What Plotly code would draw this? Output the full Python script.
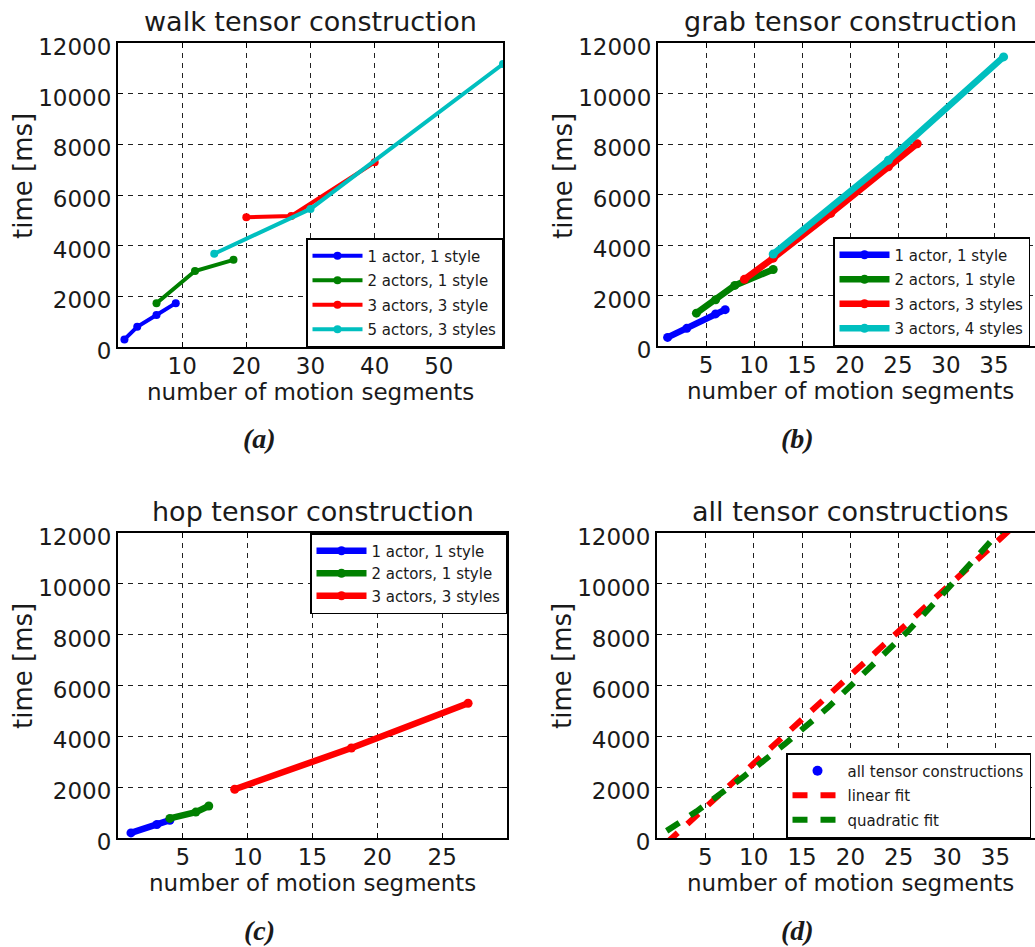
import plotly.graph_objects as go

W, H = 1035, 947
FONT = "DejaVu Sans"
INK = "#1a1a1a"

BLUE, GREEN, RED, CYAN = "#0000ff", "#008000", "#ff0000", "#00bfbf"

# ---- walk tensor construction ----
walk_x_1a1s = [1, 3, 6, 9]
walk_y_1a1s = [300, 800, 1260, 1730]
walk_x_2a1s = [6, 12, 18]
walk_y_2a1s = [1730, 3000, 3440]
walk_x_3a3s = [20, 27, 40]
walk_y_3a3s = [5120, 5170, 7290]
walk_x_5a3s = [15, 30, 60]
walk_y_5a3s = [3680, 5450, 11170]

# ---- grab tensor construction ----
grab_x_1a1s = [1, 3, 6, 7]
grab_y_1a1s = [340, 700, 1270, 1440]
grab_x_2a1s = [4, 6, 8, 12]
grab_y_2a1s = [1300, 1830, 2400, 3030]
grab_x_3a3s = [9, 12, 18, 24, 27]
grab_y_3a3s = [2640, 3480, 5250, 7100, 8010]
grab_x_3a4s = [12, 24, 36]
grab_y_3a4s = [3640, 7360, 11450]

# ---- hop tensor construction ----
hop_x_1a1s = [1, 3, 4]
hop_y_1a1s = [200, 530, 700]
hop_x_2a1s = [4, 6, 7]
hop_y_2a1s = [770, 1020, 1260]
hop_x_3a3s = [9, 18, 27]
hop_y_3a3s = [1920, 3540, 5300]

# ---- all tensor constructions: fitted curves ----
fit_x_lin = [1, 37]
fit_y_lin = [-190, 12300]
fit_x_quad = [1, 4.1, 8.7, 13.2, 17.7, 21.8, 26, 29.8, 33.8, 36.5]
fit_y_quad = [280, 1050, 2340, 3690, 5140, 6610, 8160, 9700, 11370, 12500]

y_ticks = [0, 2000, 4000, 6000, 8000, 10000, 12000]

titles = ["walk tensor construction", "grab tensor construction",
          "hop tensor construction", "all tensor constructions"]
panel_tags = ["(a)", "(b)", "(c)", "(d)"]
x_title = "number of motion segments"
y_title = "time [ms]"

# panel boxes in pixels: (left, right, top, bottom), x range, x ticks, right frame
panels = [
    dict(box=(118, 503, 43, 347), xr=[0, 60], xt=[10, 20, 30, 40, 50], right=True),
    dict(box=(658, 1035, 43, 346), xr=[0, (1035 - 658) / 9.6], xt=[5, 10, 15, 20, 25, 30, 35], right=False),
    dict(box=(118, 507, 533, 838), xr=[0, 30], xt=[5, 10, 15, 20, 25], right=True),
    dict(box=(657, 1035, 533, 838), xr=[0, (1035 - 657) / 9.67], xt=[5, 10, 15, 20, 25, 30, 35], right=False),
]

fig = go.Figure()


def px_x(v):
    return v / W


def px_y(v):
    return 1 - v / H


def add_series(xs, ys, name, color, width, msize, ax, leg):
    fig.add_trace(go.Scatter(
        x=xs, y=ys, name=name, mode="lines+markers",
        line=dict(color=color, width=width),
        marker=dict(color=color, size=msize),
        xaxis="x" + ax, yaxis="y" + ax, legend=leg,
        legendgroup=leg + name,
    ))


# walk
add_series(walk_x_1a1s, walk_y_1a1s, "1 actor, 1 style", BLUE, 4, 8, "", "legend")
add_series(walk_x_2a1s, walk_y_2a1s, "2 actors, 1 style", GREEN, 4, 8, "", "legend")
add_series(walk_x_3a3s, walk_y_3a3s, "3 actors, 3 style", RED, 4, 8, "", "legend")
add_series(walk_x_5a3s, walk_y_5a3s, "5 actors, 3 styles", CYAN, 4, 8, "", "legend")

# grab
add_series(grab_x_1a1s, grab_y_1a1s, "1 actor, 1 style", BLUE, 6.5, 9, "2", "legend2")
add_series(grab_x_2a1s, grab_y_2a1s, "2 actors, 1 style", GREEN, 6.5, 9, "2", "legend2")
add_series(grab_x_3a3s, grab_y_3a3s, "3 actors, 3 styles", RED, 6.5, 9, "2", "legend2")
add_series(grab_x_3a4s, grab_y_3a4s, "3 actors, 4 styles", CYAN, 6.5, 9, "2", "legend2")

# hop
add_series(hop_x_1a1s, hop_y_1a1s, "1 actor, 1 style", BLUE, 6.5, 9, "3", "legend3")
add_series(hop_x_2a1s, hop_y_2a1s, "2 actors, 1 style", GREEN, 6.5, 9, "3", "legend3")
add_series(hop_x_3a3s, hop_y_3a3s, "3 actors, 3 styles", RED, 6.5, 9, "3", "legend3")

# all constructions
fig.add_trace(go.Scatter(
    x=[None], y=[None], name="all tensor constructions", mode="markers",
    marker=dict(color=BLUE, size=10), xaxis="x4", yaxis="y4", legend="legend4",
    legendgroup="d1",
))
fig.add_trace(go.Scatter(
    x=fit_x_lin, y=fit_y_lin, name="linear fit", mode="lines",
    line=dict(color=RED, width=6, dash="15px,13px"),
    xaxis="x4", yaxis="y4", legend="legend4", legendgroup="d2",
))
fig.add_trace(go.Scatter(
    x=fit_x_quad, y=fit_y_quad, name="quadratic fit", mode="lines",
    line=dict(color=GREEN, width=6, dash="15px,13px"),
    xaxis="x4", yaxis="y4", legend="legend4", legendgroup="d3",
))

layout = dict(
    width=W, height=H, margin=dict(l=0, r=0, t=0, b=0, autoexpand=False),
    paper_bgcolor="white", plot_bgcolor="white",
    font=dict(family=FONT, color=INK),
    annotations=[],
)

for i, p in enumerate(panels):
    l, r, t, b = p["box"]
    suffix = "" if i == 0 else str(i + 1)
    common = dict(
        showline=True, linecolor="black", linewidth=2,
        ticks="inside", ticklen=5, tickcolor="black", tickwidth=1,
        showgrid=True, gridcolor="#222222", gridwidth=1, griddash="5px,5px",
        zeroline=False, tickfont=dict(family=FONT, size=23, color=INK),
        tickformat="d", automargin=False, fixedrange=True,
    )
    layout["xaxis" + suffix] = dict(
        common, domain=[px_x(l), px_x(r)], range=p["xr"], tickvals=p["xt"],
        anchor="y" + suffix, mirror="ticks", ticklabelstandoff=-3,
    )
    layout["yaxis" + suffix] = dict(
        common, domain=[px_y(b), px_y(t)], range=[0, 12000], tickvals=y_ticks,
        anchor="x" + suffix, mirror="ticks" if p["right"] else False,
        ticklabelshift=4,
    )
    # centre of the full axis (panels b/d run past the page edge up to x = 40)
    full = 40 if not p["right"] else p["xr"][1]
    cx = l + full / p["xr"][1] * (r - l) / 2
    layout["annotations"] += [
        dict(text=titles[i], x=px_x(cx), y=px_y(t - 21), xref="paper", yref="paper",
             xanchor="center", yanchor="middle", showarrow=False,
             font=dict(family=FONT, size=27, color=INK)),
        dict(text=x_title, x=px_x(cx), y=px_y(b + 45), xref="paper", yref="paper",
             xanchor="center", yanchor="middle", showarrow=False,
             font=dict(family=FONT, size=23, color=INK)),
        dict(text=y_title, x=px_x(l - 95), y=px_y(t + 133), xref="paper", yref="paper",
             xanchor="center", yanchor="middle", showarrow=False, textangle=-90,
             font=dict(family=FONT, size=26, color=INK)),
        dict(text="<b><i>" + panel_tags[i] + "</i></b>", x=px_x(259 if i % 2 == 0 else 797),
             y=px_y(438 if i < 2 else 930), xref="paper", yref="paper",
             xanchor="center", yanchor="middle", showarrow=False,
             font=dict(family="Liberation Serif", size=28, color=INK)),
    ]


def legend_cfg(x, y, xanchor, yanchor, gap=2):
    return dict(
        x=px_x(x), y=px_y(y), xanchor=xanchor, yanchor=yanchor,
        xref="paper", yref="paper",
        bgcolor="white", bordercolor="black", borderwidth=1.5,
        font=dict(family=FONT, size=15, color=INK),
        itemwidth=50, tracegroupgap=gap,
    )


layout["legend"] = legend_cfg(503, 347, "right", "bottom")
layout["legend2"] = legend_cfg(833, 346, "left", "bottom")
layout["legend3"] = legend_cfg(507, 533, "right", "top", gap=0)
layout["legend4"] = legend_cfg(786, 838, "left", "bottom")

fig.update_layout(**layout)
fig.write_html("out.html")
